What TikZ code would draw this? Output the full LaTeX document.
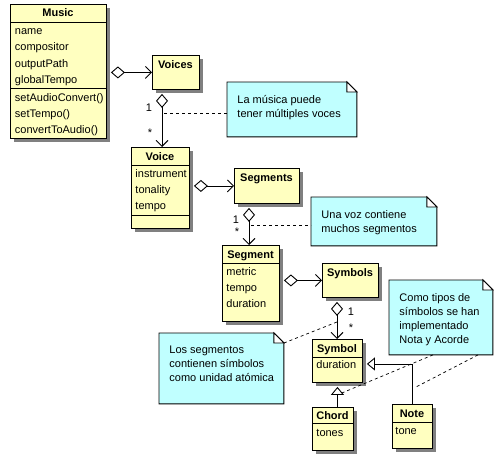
\documentclass[tikz,border=0pt]{standalone}
\usepackage{fontspec}
\setmainfont{Liberation Sans}
\usetikzlibrary{arrows.meta, positioning, shadows}
\definecolor{classyellow}{RGB}{255,255,192}
\definecolor{notecyan}{RGB}{192,255,255}
\definecolor{shadowgray}{RGB}{128,128,128}

\begin{document}
\begin{tikzpicture}[x=1pt, y=-1pt, line width=0.9pt,
    box/.style={draw, fill=classyellow, anchor=north west, inner sep=0pt,
        drop shadow={shadow xshift=4pt, shadow yshift=-4pt, fill=shadowgray, opacity=1}},
    memo/.style={anchor=north west, inner sep=0pt},
    ttl/.style={anchor=base, inner sep=0pt, font=\fontsize{11}{14}\selectfont\bfseries},
    txt/.style={anchor=base west, inner sep=0pt, font=\fontsize{11}{14}\selectfont},
    memotxt/.style={anchor=base west, align=left, inner sep=0pt, font=\fontsize{11}{14}\selectfont},
    mult/.style={inner sep=0pt, font=\fontsize{11}{13}\selectfont},
    agg/.style={arrows={Diamond[open, fill=white, length=14pt, width=12pt]-Straight Barb[length=6pt, width=12pt]}, shorten <=4pt},
    gen/.style={-{Triangle[open, fill=white, length=8pt, width=13pt]}, shorten >=4pt},
    link/.style={line width=0.7pt, dash pattern=on 3pt off 3pt}]
    \useasboundingbox (0,0) rectangle (500,460);

    % class boxes
    \node[box, minimum width=96pt, minimum height=134pt] (music) at (10,4) {};
    \node[box, minimum width=47pt, minimum height=34pt] (voices) at (152,55) {};
    \node[box, minimum width=58pt, minimum height=81pt] (voice) at (131,147) {};
    \node[box, minimum width=65pt, minimum height=35pt] (segments) at (234,168) {};
    \node[box, minimum width=57pt, minimum height=76pt] (segment) at (222,245) {};
    \node[box, minimum width=56pt, minimum height=34pt] (symbols) at (322,263) {};
    \node[box, minimum width=50pt, minimum height=43pt] (symbol) at (312,339) {};
    \node[box, minimum width=41pt, minimum height=43pt] (chord) at (312,407) {};
    \node[box, minimum width=40pt, minimum height=44pt] (note) at (392,404) {};

    % compartments
    \draw ([yshift=-18pt]music.north west) -- ([yshift=-18pt]music.north east);
    \draw ([yshift=-84pt]music.north west) -- ([yshift=-84pt]music.north east);
    \draw ([yshift=-18pt]voice.north west) -- ([yshift=-18pt]voice.north east);
    \draw ([yshift=-68pt]voice.north west) -- ([yshift=-68pt]voice.north east);
    \draw ([yshift=-18pt]segment.north west) -- ([yshift=-18pt]segment.north east);
    \draw ([yshift=-18pt]symbol.north west) -- ([yshift=-18pt]symbol.north east);
    \draw ([yshift=-16pt]chord.north west) -- ([yshift=-16pt]chord.north east);
    \draw ([yshift=-18pt]note.north west) -- ([yshift=-18pt]note.north east);

    \node[ttl] (music-t) at (58,17) {Music};
    \node[txt] (music-a1) at (14.5,35) {name};
    \node[txt] (music-a2) at (14.5,51) {compositor};
    \node[txt] (music-a3) at (14.5,67) {outputPath};
    \node[txt] (music-a4) at (14.5,83) {globalTempo};
    \node[txt] (music-m1) at (14.5,101) {setAudioConvert()};
    \node[txt] (music-m2) at (14.5,117) {setTempo()};
    \node[txt] (music-m3) at (14.5,133) {convertToAudio()};

    \node[ttl] (voices-t) at (175.5,68) {Voices};

    \node[ttl] (voice-t) at (160,160) {Voice};
    \node[txt] (voice-a1) at (135,177) {instrument};
    \node[txt] (voice-a2) at (135,193) {tonality};
    \node[txt] (voice-a3) at (135,209) {tempo};

    \node[ttl] (segments-t) at (266.5,181) {Segments};

    \node[ttl] (segment-t) at (250.5,258) {Segment};
    \node[txt] (segment-a1) at (226,275) {metric};
    \node[txt] (segment-a2) at (226,291) {tempo};
    \node[txt] (segment-a3) at (226,307) {duration};

    \node[ttl] (symbols-t) at (350,276) {Symbols};

    \node[ttl] (symbol-t) at (337,352) {Symbol};
    \node[txt] (symbol-a1) at (316,368) {duration};

    \node[ttl] (chord-t) at (332.5,419) {Chord};
    \node[txt] (chord-a1) at (316,436) {tones};

    \node[ttl] (note-t) at (412,417) {Note};
    \node[txt] (note-a1) at (395,434) {tone};

    % notes
    \node[memo, minimum width=129pt, minimum height=54pt] (cmt1) at (227,82) {};
    \node[memo, minimum width=125pt, minimum height=48pt] (cmt2) at (311,197) {};
    \node[memo, minimum width=124pt, minimum height=70pt] (cmt3) at (159,333) {};
    \node[memo, minimum width=103pt, minimum height=74pt] (cmt4) at (389,280) {};
    \foreach \m in {cmt1,cmt2,cmt3,cmt4}{
        \draw[fill=notecyan] (\m.north west) -- ([xshift=-10pt]\m.north east)
            -- ([yshift=-10pt]\m.north east) -- (\m.south east) -- (\m.south west) -- cycle;
        \draw[fill=white] ([xshift=-10pt]\m.north east) |- ([yshift=-10pt]\m.north east) -- cycle;
    }
    % base = last line
    \node[memotxt] (cmt1-t) at (237,117) {La música puede\\tener múltiples voces};
    \node[memotxt] (cmt2-t) at (321,232) {Una voz contiene\\muchos segmentos};
    \node[memotxt] (cmt3-t) at (169,381) {Los segmentos\\contienen símbolos\\como unidad atómica};
    \node[memotxt] (cmt4-t) at (399,343) {Como tipos de\\símbolos se han\\implementado\\Nota y Acorde};

    % associations
    \draw[agg] (music.east |- voices.west) -- (voices.west);
    \draw[agg] ([xshift=10pt]voices.south west) -- ([xshift=10pt]voices.south west |- voice.north);
    \draw[agg] (voice.east |- segments.west) -- (segments.west);
    \draw[agg] ([xshift=15pt]segments.south west) -- ([xshift=15pt]segments.south west |- segment.north);
    \draw[agg] (segment.east |- symbols.west) -- (symbols.west);
    \draw[agg] ([xshift=15pt]symbols.south west) -- ([xshift=15pt]symbols.south west |- symbol.north);
    \draw[gen] (chord.north -| symbol.south) -- (symbol.south);
    \draw[gen] (note.north) |- ([yshift=-3pt]symbol.east);

    \node[mult] (m1a) at (149,108) {1};
    \node[mult] (m1b) at (150,133) {*};
    \node[mult] (m2a) at (236,220) {1};
    \node[mult] (m2b) at (237,232) {*};
    \node[mult] (m3a) at (351,312) {1};
    \node[mult] (m3b) at (351,328) {*};

    % note links
    \coordinate (c1) at (164,113);
    \coordinate (c2) at (251,225);
    \coordinate (c3) at (337,322);
    \coordinate (c4) at (337,395);
    \coordinate (c5) at (416,387);
    \draw[link] (c1) -- (cmt1.west |- c1);
    \draw[link] (c2) -- (cmt2.west |- c2);
    \draw[link] ([yshift=-10pt]cmt3.north east) -- (c3);
    \draw[link] ([xshift=44pt]cmt4.south west) -- (c4);
    \draw[link] ([xshift=89pt]cmt4.south west) -- (c5);
\end{tikzpicture}
\end{document}
